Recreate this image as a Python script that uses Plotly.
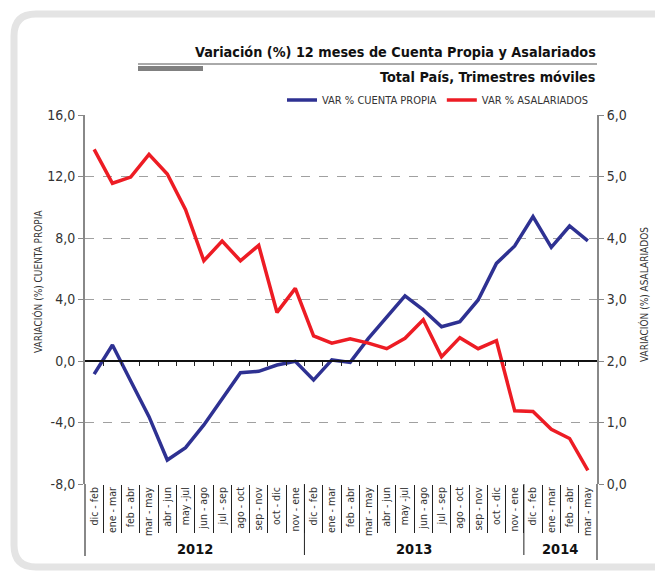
import plotly.graph_objects as go

periods = ["dic - feb", "ene - mar", "feb - abr", "mar - may", "abr - jun", "may -jul",
           "jun - ago", "jul - sep", "ago - oct", "sep - nov", "oct - dic", "nov - ene",
           "dic - feb", "ene - mar", "feb - abr", "mar - may", "abr - jun", "may -jul",
           "jun - ago", "jul - sep", "ago - oct", "sep - nov", "oct - dic", "nov - ene",
           "dic - feb", "ene - mar", "feb - abr", "mar - may"]
years = ["2012", "2013", "2014"]
year_counts = [12, 12, 4]

cuenta_propia = [-0.85, 1.04, -1.3, -3.62, -6.44, -5.64, -4.16, -2.43, -0.76, -0.67, -0.26, -0.02,
                 -1.24, 0.07, -0.09, 1.47, 2.88, 4.23, 3.32, 2.23, 2.56, 3.97, 6.35, 7.48,
                 9.39, 7.39, 8.78, 7.82]
asalariados = [5.44, 4.89, 4.99, 5.36, 5.04, 4.46, 3.63, 3.95, 3.63, 3.88, 2.79, 3.18,
               2.41, 2.29, 2.36, 2.29, 2.20, 2.37, 2.67, 2.07, 2.38, 2.20, 2.33, 1.19,
               1.18, 0.89, 0.74, 0.22]

left_ticks = [-8, -4, 0, 4, 8, 12, 16]
left_ticktext = ["-8,0", "-4,0", "0,0", "4,0", "8,0", "12,0", "16,0"]
right_ticks = [0, 1, 2, 3, 4, 5, 6]
right_ticktext = ["0,0", "1,0", "2,0", "3,0", "4,0", "5,0", "6,0"]

FONT = "DejaVu Sans Condensed, sans-serif"
W, H = 655, 571
L, R, T, B = 85, 597, 115, 484


def px(x):
    return (x - L) / (R - L)


def py(y):
    return (B - y) / (B - T)


n = len(periods)
xs = list(range(n))

fig = go.Figure()
fig.add_trace(go.Scatter(x=xs, y=cuenta_propia, mode="lines", name="VAR % CUENTA PROPIA",
                         line=dict(color="#2e3192", width=3.5), xaxis="x", yaxis="y"))
fig.add_trace(go.Scatter(x=xs, y=asalariados, mode="lines", name="VAR % ASALARIADOS",
                         line=dict(color="#ed1c24", width=3.5), xaxis="x", yaxis="y2"))
# helper trace so the zero-crossing axis is rendered
fig.add_trace(go.Scatter(x=[xs[0]], y=[0], mode="markers", marker=dict(opacity=0),
                         showlegend=False, hoverinfo="skip", xaxis="x2", yaxis="y"))

boundaries = [i - 0.5 for i in range(n + 1)]

fig.update_layout(
    width=W, height=H,
    margin=dict(l=L, r=W - R, t=T, b=H - B, autoexpand=False),
    paper_bgcolor="white", plot_bgcolor="white",
    font=dict(family=FONT, color="#333333"),
    showlegend=True,
    legend=dict(orientation="h", x=px(594), xanchor="right", y=py(100), yanchor="middle",
                font=dict(size=11, family=FONT, color="#333333"), bgcolor="rgba(0,0,0,0)",
                itemwidth=30, tracegroupgap=0),
    xaxis=dict(range=[-0.5, n - 0.5], tickmode="array", tickvals=xs, ticktext=periods,
               tickangle=-90, ticks="", showgrid=False, zeroline=False, showline=False,
               automargin=False,
               tickfont=dict(size=10.5, family=FONT, color="#333333"),
               minor=dict(tickmode="array", tickvals=boundaries, ticks="outside", ticklen=48,
                          tickcolor="#222222", tickwidth=1, showgrid=False)),
    xaxis2=dict(overlaying="x", anchor="free", position=py(361), range=[-0.5, n - 0.5],
                tickmode="array", tickvals=boundaries[1:-1], ticks="outside", ticklen=4,
                tickcolor="#222222", showticklabels=False, showline=True, linecolor="#111111",
                linewidth=1.5, showgrid=False, zeroline=False, automargin=False),
    yaxis=dict(range=[-8, 16], tickmode="array", tickvals=left_ticks, ticktext=left_ticktext,
               ticks="outside", ticklen=5, tickcolor="#888888", showline=True,
               linecolor="#888888", linewidth=2, showgrid=True, gridcolor="#a0a0a0",
               griddash="dash", gridwidth=1, zeroline=False, automargin=False,
               tickfont=dict(size=14, family=FONT, color="#333333")),
    yaxis2=dict(range=[0, 6], overlaying="y", side="right", tickmode="array",
                tickvals=right_ticks, ticktext=right_ticktext, ticks="outside", ticklen=5,
                tickcolor="#888888", showline=True, linecolor="#888888", linewidth=2,
                showgrid=False, zeroline=False, automargin=False,
                tickfont=dict(size=14, family=FONT, color="#333333")),
)

shapes = []
# outer rounded frame
r = 22
fx0, fy0, fx1, fy1 = 14, 14, 760, 567
path = (f"M {px(fx1)},{py(fy0)} L {px(fx0 + r)},{py(fy0)} "
        f"Q {px(fx0)},{py(fy0)} {px(fx0)},{py(fy0 + r)} "
        f"L {px(fx0)},{py(fy1 - r)} Q {px(fx0)},{py(fy1)} {px(fx0 + r)},{py(fy1)} "
        f"L {px(fx1)},{py(fy1)}")
shapes.append(dict(type="path", xref="paper", yref="paper", path=path,
                   line=dict(color="#e4e4e4", width=7), layer="below"))
# title underline and gray bar
shapes.append(dict(type="line", xref="paper", yref="paper", x0=px(138), x1=px(597),
                   y0=py(64), y1=py(64), line=dict(color="#555555", width=1)))
shapes.append(dict(type="rect", xref="paper", yref="paper", x0=px(138), x1=px(203),
                   y0=py(66), y1=py(71), line=dict(width=0), fillcolor="#808080"))
# axis line extensions below plot
shapes.append(dict(type="line", xref="paper", yref="paper", x0=0, x1=0, y0=0, y1=py(556),
                   line=dict(color="#888888", width=2)))
shapes.append(dict(type="line", xref="paper", yref="paper", x0=1, x1=1, y0=0, y1=py(560),
                   line=dict(color="#888888", width=2)))
# year separators
start = 0
annotations = []
for yr, cnt in zip(years, year_counts):
    center = start + (cnt - 1) / 2
    annotations.append(dict(text=f"<b>{yr}</b>", x=center, xref="x", y=py(549), yref="paper",
                            showarrow=False, font=dict(size=14.5, family=FONT, color="#111111"),
                            xanchor="center", yanchor="middle"))
    start += cnt
    if start < n:
        shapes.append(dict(type="line", xref="x", yref="paper", x0=start - 0.5, x1=start - 0.5,
                           y0=0, y1=py(555), line=dict(color="#222222", width=1)))

annotations.append(dict(text="<b>Variación (%) 12 meses de Cuenta Propia y Asalariados</b>",
                        x=px(598), y=py(52), xref="paper", yref="paper", showarrow=False,
                        xanchor="right", yanchor="middle",
                        font=dict(size=14.3, family=FONT, color="#111111")))
annotations.append(dict(text="<b>Total País, Trimestres móviles</b>",
                        x=px(598), y=py(77), xref="paper", yref="paper", showarrow=False,
                        xanchor="right", yanchor="middle",
                        font=dict(size=14.3, family=FONT, color="#111111")))
# axis titles
annotations.append(dict(text="VARIACIÓN (%) CUENTA PROPIA", x=px(38), y=py(282),
                        xref="paper", yref="paper", showarrow=False, textangle=-90,
                        xanchor="center", yanchor="middle",
                        font=dict(size=10, family=FONT, color="#333333")))
annotations.append(dict(text="VARIACIÓN (%) ASALARIADOS", x=px(644), y=py(295),
                        xref="paper", yref="paper", showarrow=False, textangle=-90,
                        xanchor="center", yanchor="middle",
                        font=dict(size=10, family=FONT, color="#333333")))

fig.update_layout(shapes=shapes, annotations=annotations)
fig.write_html("out.html", config={"displayModeBar": False},
               post_script="document.body.style.margin='0';document.body.style.padding='0';"
                           "document.documentElement.style.overflow='hidden';")
